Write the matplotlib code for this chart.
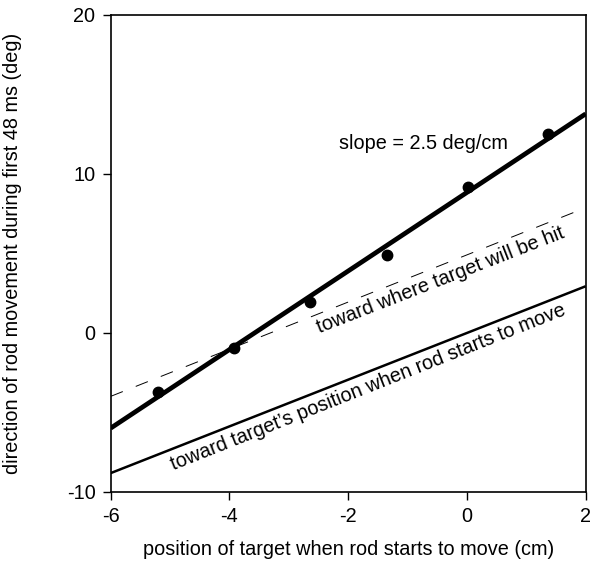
import numpy as np
import matplotlib.pyplot as plt

plt.rcParams['font.family'] = ['Liberation Sans', 'DejaVu Sans']
plt.rcParams['axes.unicode_minus'] = False

# data points: target position (cm) vs rod direction (deg)
pos_x = [-5.21, -3.92, -2.64, -1.34, 0.02, 1.36]
dir_y = [-3.7, -0.98, 1.96, 4.89, 9.17, 12.54]

# fitted line (thick)
fit_x = [-6, 2]
fit_y = [-6.0, 13.78]

# toward where target will be hit (dashed)
hit_x = [-6, 1.81]
hit_y = [-4.0, 7.59]

# toward target's position at start (thin)
start_x = [-6, 2]
start_y = [-8.83, 2.93]

fs = 14.3

fig = plt.figure(figsize=(5.91, 5.69), dpi=100)
ax = fig.add_axes([110.7/591, 1 - 491.7/569, (585.7-110.7)/591, (491.7-15)/569])

ax.plot(start_x, start_y, color='black', linewidth=1.8, solid_capstyle='butt')
ax.plot(hit_x, hit_y, color='black', linewidth=0.7, dashes=(13.4, 14.3))
ax.plot(fit_x, fit_y, color='black', linewidth=3.4, solid_capstyle='butt')
ax.plot(pos_x, dir_y, 'o', color='black', markersize=7.5)

ax.text(-0.74, 11.9, 'slope = 2.5 deg/cm', ha='center', va='center', fontsize=fs)
ax.text(-0.44, 3.3, 'toward where target will be hit', ha='center', va='center',
        rotation=21.3, rotation_mode='anchor', fontsize=fs)
ax.text(-1.66, -3.43, "toward target\u2019s position when rod starts to move", ha='center', va='center',
        rotation=21.6, rotation_mode='anchor', fontsize=fs)

ax.set_xlim(-6, 2)
ax.set_ylim(-10, 20)
ax.set_xticks([-6, -4, -2, 0, 2])
ax.set_yticks([-10, 0, 10, 20])
ax.tick_params(direction='out', length=6, width=1, labelsize=fs, pad=5)
for s in ax.spines.values():
    s.set_linewidth(1.2)

ax.set_xlabel('position of target when rod starts to move (cm)', fontsize=fs)
ax.set_ylabel('direction of rod movement during first 48 ms (deg)', fontsize=fs)
ax.xaxis.set_label_coords(0.5, -0.102)
ax.yaxis.set_label_coords(-0.187, 0.5)

fig.savefig('out.png', dpi=100)
